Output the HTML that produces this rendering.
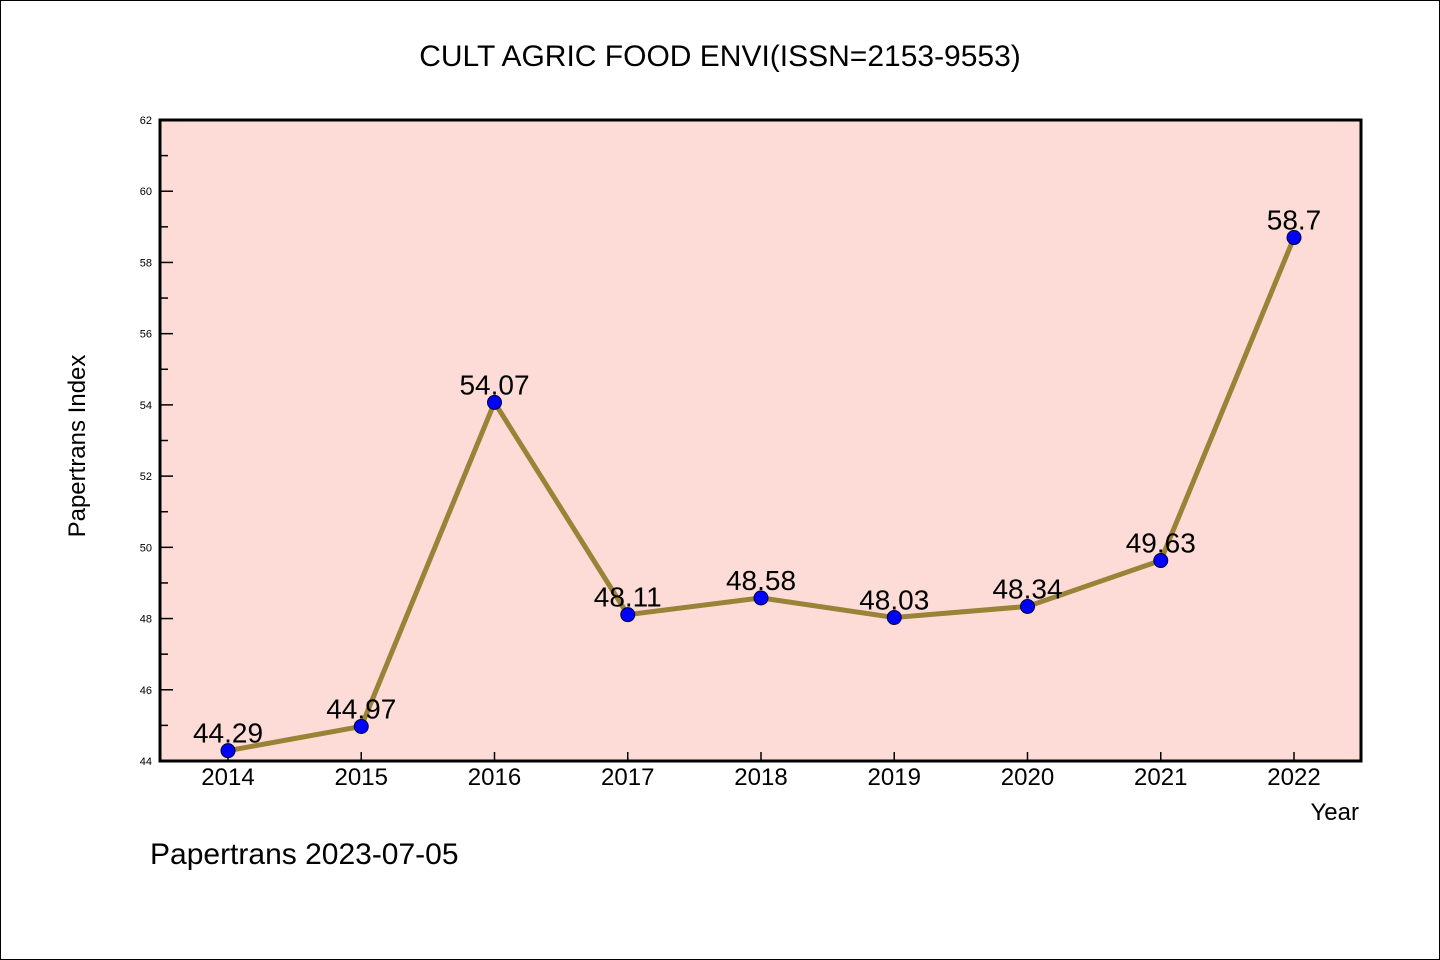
<!DOCTYPE html>
<html><head><meta charset="utf-8"><style>
body{margin:0;background:#fff}
svg{display:block}
text{font-family:"WenQuanYi Zen Hei","Liberation Sans",sans-serif;fill:#000}
</style></head><body>
<svg id="chart" width="1440" height="960">
<rect x="0.5" y="0.5" width="1439" height="959" fill="#fff" stroke="#000"/>
<text x="720" y="66" font-size="30" text-anchor="middle">CULT AGRIC FOOD ENVI(ISSN=2153-9553)</text>
<rect x="160" y="120" width="1201" height="641" fill="#fddcd8"/>
<g id="axes"></g>
<g id="series"></g>
<rect x="160" y="120" width="1201" height="641" fill="none" stroke="#000" stroke-width="3"/>
<text x="85" y="446" font-size="24" text-anchor="middle" transform="rotate(-90 85 446)">Papertrans Index</text>
<text x="1359" y="820" font-size="24" text-anchor="end">Year</text>
<text x="150" y="864" font-size="30">Papertrans 2023-07-05</text>
</svg>
<script>
const years=["2014","2015","2016","2017","2018","2019","2020","2021","2022"];
const values=[44.29,44.97,54.07,48.11,48.58,48.03,48.34,49.63,58.7];
const labels=["44.29","44.97","54.07","48.11","48.58","48.03","48.34","49.63","58.7"];
const yTicks=[44,46,48,50,52,54,56,58,60,62];
const yMin=44,yMax=62;
const NS="http://www.w3.org/2000/svg";
const X=i=>228+i*(1294-228)/(years.length-1);
const Y=v=>761-(v-yMin)*(641/(yMax-yMin));
function mk(tag,attrs,parent){const e=document.createElementNS(NS,tag);for(const k in attrs)e.setAttribute(k,attrs[k]);parent.appendChild(e);return e;}
const ax=document.getElementById('axes'),se=document.getElementById('series');
for(let v=yMin;v<=yMax;v++){
  const major=yTicks.includes(v);
  const t=mk('line',{x1:160,x2:major?173:168,y1:Y(v),y2:Y(v),stroke:'#000','stroke-width':1.5},ax);
  
  
  if(major){const l=mk('text',{x:152,y:Y(v)+4,'font-size':11,'text-anchor':'end'},ax);l.textContent=v;
  
  }
}
years.forEach((yr,i)=>{
  const t=mk('line',{x1:X(i),x2:X(i),y1:761,y2:752,stroke:'#000','stroke-width':1.5},ax);
  
  
  const l=mk('text',{x:X(i),y:785,'font-size':24,'text-anchor':'middle'},ax);l.textContent=yr;
  
  
});
const pl=mk('polyline',{points:values.map((v,i)=>X(i)+','+Y(v)).join(' '),fill:'none',stroke:'#9a8236','stroke-width':5},se);


values.forEach((v,i)=>{
  const c=mk('circle',{cx:X(i),cy:Y(v),r:7,fill:'#0000ff',stroke:'#000033','stroke-width':1},se);
  
  
  const l=mk('text',{x:X(i),y:Y(v)-8,'font-size':28,'text-anchor':'middle'},se);l.textContent=labels[i];
  
  
});
</script>
</body></html>
